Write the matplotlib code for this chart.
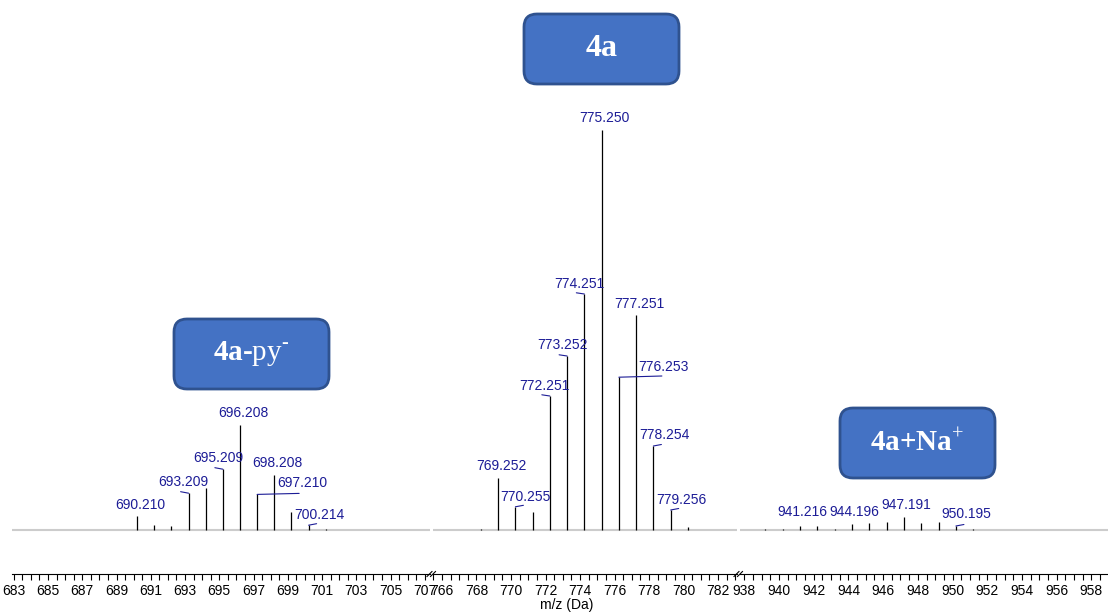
import matplotlib
matplotlib.use("Agg")
import matplotlib.pyplot as plt
from matplotlib.patches import FancyBboxPatch
from matplotlib.lines import Line2D
import numpy as np

plt.rcParams["font.family"] = ["Liberation Sans", "DejaVu Sans"]
plt.rcParams["mathtext.fontset"] = "custom"
plt.rcParams["mathtext.rm"] = "Liberation Serif"
plt.rcParams["mathtext.bf"] = "Liberation Serif:bold"

# ---- data: peak m/z and relative intensity for each window ----
mz_py = [690.210, 691.21, 692.21, 693.209, 694.21, 695.209, 696.208,
         697.210, 698.208, 699.21, 700.214, 701.21]
int_py = [3.6, 1.2, 1.0, 9.2, 10.6, 15.2, 26.2, 8.9, 13.7, 4.4, 1.2, 0.3]

mz_4a = [768.25, 769.252, 770.255, 771.25, 772.251, 773.252, 774.251,
         775.250, 776.253, 777.251, 778.254, 779.256, 780.26]
int_4a = [0.2, 13.1, 5.8, 4.4, 33.5, 43.5, 59.0, 100.0, 38.2, 53.75,
          21.0, 5.0, 0.8]

mz_na = [939.2, 940.2, 941.216, 942.2, 943.2, 944.196, 945.2, 946.2,
         947.191, 948.2, 949.2, 950.195, 951.2]
int_na = [0.3, 0.3, 0.9, 0.9, 0.3, 1.5, 1.7, 2.0, 3.3, 1.8, 1.9, 1.0, 0.3]

labels_py = [690.210, 693.209, 695.209, 696.208, 697.210, 698.208, 700.214]
labels_4a = [769.252, 770.255, 772.251, 773.252, 774.251, 775.250,
             776.253, 777.251, 778.254, 779.256]
labels_na = [941.216, 944.196, 947.191, 950.195]

# label placement (pixels from the peak top): text dx, dy, connector end
label_pos = {
    690.210: (3, 11, None), 693.209: (-5, 11, (-8, 1.5)),
    695.209: (-5, 11, (-8, 1.5)), 696.208: (3, 12, None),
    697.210: (45, 11, (42, 1)), 698.208: (3, 12, None),
    700.214: (11, 10, (8, 1.5)),
    769.252: (3, 12, None), 770.255: (10, 9.5, (8, 1.5)),
    772.251: (-5, 10.5, (-8, 1.2)), 773.252: (-5, 11, (-8, 1.2)),
    774.251: (-5, 9.5, (-8, 1.2)), 775.250: (3, 12, None),
    776.253: (45, 10.5, (43, 1.2)), 777.251: (3, 11, None),
    778.254: (11, 11, (8, 1.5)), 779.256: (11, 10.5, (8, 1.5)),
    941.216: (2.5, 14, None), 944.196: (2.5, 12, None),
    947.191: (2.5, 12, None), 950.195: (10, 12, (8, 1.5)),
}

panels = [
    (mz_py, int_py, labels_py, (682.9, 707.3), np.arange(683, 708, 2)),
    (mz_4a, int_4a, labels_4a, (765.45, 783.1), np.arange(766, 783, 2)),
    (mz_na, int_na, labels_na, (937.75, 958.96), np.arange(938, 959, 2)),
]
# panel left/right edges in pixels
edges = [(12, 430), (432.5, 737), (740, 1108)]

W, H = 1108, 615
fig = plt.figure(figsize=(W / 100, H / 100), dpi=100)
navy = "#1c1c96"

for (mz, inten, labs, xlim, ticks), (x0, x1) in zip(panels, edges):
    ax = fig.add_axes([x0 / W, 41 / H, (x1 - x0) / W, 574 / H])
    ax.set_xlim(*xlim)
    ax.set_ylim(-11, 132.5)
    ax.axhline(0, color="#cccccc", lw=1.5, zorder=1)
    ax.vlines(mz, 0, inten, color="black", lw=0.9, zorder=2)
    for m in labs:
        h = inten[mz.index(m)]
        dx, dy, conn = label_pos[m]
        ax.annotate(f"{m:.3f}", xy=(m, h), xytext=(dx, dy),
                    textcoords="offset pixels", ha="center", va="center",
                    fontsize=10, color=navy)
        if conn:
            ax.annotate("", xy=(m, h), xytext=conn, textcoords="offset pixels",
                        arrowprops=dict(arrowstyle="-", color=navy, lw=0.8,
                                        shrinkA=0, shrinkB=0))
    for s in ["top", "left", "right"]:
        ax.spines[s].set_visible(False)
    ax.spines["bottom"].set_linewidth(0.8)
    ax.set_yticks([])
    ax.set_xticks(ticks)
    ax.set_xticks(np.arange(np.ceil(xlim[0] * 2) / 2, xlim[1], 0.5), minor=True)
    ax.tick_params(axis="x", which="both", direction="out", length=4,
                   width=0.8, labelsize=10, pad=3)
    ax.patch.set_alpha(0)

# axis break marks
for bx in [431.5, 738.5]:
    for off in [-2, 1.5]:
        fig.add_artist(Line2D([(bx + off - 2.5) / 100, (bx + off + 2.5) / 100],
                              [38.5 / 100, 43.5 / 100],
                              transform=fig.dpi_scale_trans,
                              color="black", lw=0.8))

fig.text(567 / W, 1 - 605 / H, "m/z (Da)", ha="center", va="center",
         fontsize=10)

# compound boxes
boxes = [
    (524, 14, "4a", 23),
    (174, 319, "4a-$\\mathrm{py}^{\\text{-}}$", 21),
    (840, 408, "4a+Na$^{+}$", 21),
]
for bx, by, txt, fs in boxes:
    bw, bh = 155, 70
    patch = FancyBboxPatch(((bx) / 100, (H - by - bh) / 100), bw / 100, bh / 100,
                           boxstyle="round,pad=0,rounding_size=0.13",
                           transform=fig.dpi_scale_trans, facecolor="#4472C4",
                           edgecolor="#2F528F", lw=2)
    fig.add_artist(patch)
    fig.text((bx + bw / 2) / W, 1 - (by + bh / 2) / H, txt, ha="center",
             va="center", color="white", fontsize=fs, fontweight="bold",
             family="Liberation Serif")

fig.savefig("out.png", dpi=100)
